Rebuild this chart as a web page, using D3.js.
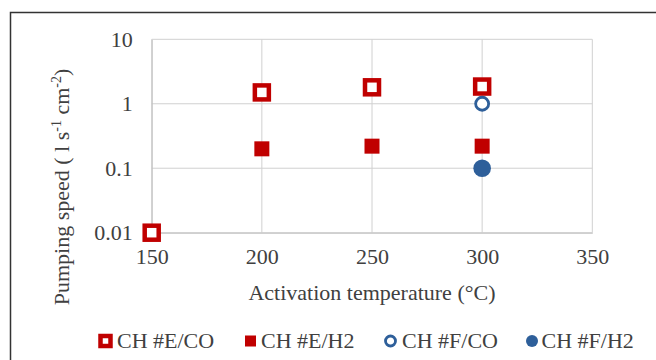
<!DOCTYPE html>
<html>
<head>
<meta charset="utf-8">
<script src="https://cdn.jsdelivr.net/npm/d3@7"></script>
<style>
  body { margin: 0; background: #fff; }
</style>
</head>
<body>
<div id="chart"></div>
<script>
// data
var temps = [150, 200, 250, 300];
var eCO = [0.01, 1.5, 1.8, 1.85];
var eH2 = [null, 0.2, 0.22, 0.22];
var fCO = [null, null, null, 1];
var fH2 = [null, null, null, 0.1];
var xTicks = [150, 200, 250, 300, 350];
var yTicks = [0.01, 0.1, 1, 10];
var seriesNames = ["CH #E/CO", "CH #E/H2", "CH #F/CO", "CH #F/H2"];

var red = "#c00000", blue = "#2e5f9a", txt = "#404040";
var FONT = "Liberation Serif";

var W = 656, H = 360;
var margin = {top: 39.3, right: 63.7, bottom: 127.3, left: 151.7};
var width = W - margin.left - margin.right,
    height = H - margin.top - margin.bottom;

var svg = d3.select("#chart").append("svg")
    .attr("width", W)
    .attr("height", H);

// outer frame (only top and left edges are in view)
svg.append("path")
    .attr("d", "M10.5," + H + "V12.5H" + W)
    .attr("fill", "none")
    .attr("stroke", "#333")
    .attr("stroke-width", 1.5);

var g = svg.append("g")
    .attr("transform", "translate(" + margin.left + "," + margin.top + ")");

var x = d3.scaleLinear().domain([150, 350]).range([0, width]);
var y = d3.scaleLog().domain([0.01, 10]).range([height, 0]);

// gridlines
g.selectAll("line.vgrid")
    .data(xTicks)
    .enter().append("line")
    .attr("class", "vgrid")
    .attr("x1", function(d) { return x(d); })
    .attr("x2", function(d) { return x(d); })
    .attr("y1", 0)
    .attr("y2", height)
    .attr("stroke", "#d0d0d0");

g.selectAll("line.hgrid")
    .data(yTicks)
    .enter().append("line")
    .attr("class", "hgrid")
    .attr("x1", 0)
    .attr("x2", width)
    .attr("y1", function(d) { return y(d); })
    .attr("y2", function(d) { return y(d); })
    .attr("stroke", "#d0d0d0");

// axes
var xAxis = g.append("g")
    .attr("transform", "translate(0," + height + ")")
    .call(d3.axisBottom(x).tickValues(xTicks).tickSize(0).tickPadding(16).tickFormat(d3.format("d")));
xAxis.select(".domain").attr("stroke", "#c0c0c0");

var yAxis = g.append("g")
    .call(d3.axisLeft(y).tickValues(yTicks).tickSize(0).tickPadding(19)
        .tickFormat(function(d) { return d >= 1 ? d3.format("d")(d) : String(d); }));
yAxis.select(".domain").attr("stroke", "#c0c0c0");

// axis titles
svg.append("text")
    .attr("x", margin.left + width / 2)
    .attr("y", 300)
    .attr("text-anchor", "middle")
    .text("Activation temperature (°C)");

var yt = svg.append("text")
    .attr("transform", "translate(69,187) rotate(-90)")
    .attr("text-anchor", "middle");
yt.append("tspan").text("Pumping speed ( l s");
yt.append("tspan").attr("dy", -8).attr("class", "sup").text("-1");
yt.append("tspan").attr("dy", 8).text(" cm");
yt.append("tspan").attr("dy", -8).attr("class", "sup").text("-2");
yt.append("tspan").attr("dy", 8).text(")");

function pts(vals) {
    return temps.map(function(t, i) { return {t: t, v: vals[i]}; })
        .filter(function(d) { return d.v != null; });
}

// CH #E/CO open squares
g.selectAll("rect.eco")
    .data(pts(eCO))
    .enter().append("rect")
    .attr("class", "eco")
    .attr("x", function(d) { return x(d.t) - 7; })
    .attr("y", function(d) { return y(d.v) - 7; })
    .attr("width", 14).attr("height", 14)
    .attr("fill", "#fff")
    .attr("stroke", red)
    .attr("stroke-width", 4.5);

// CH #E/H2 filled squares
g.selectAll("rect.eh2")
    .data(pts(eH2))
    .enter().append("rect")
    .attr("class", "eh2")
    .attr("x", function(d) { return x(d.t) - 7.5; })
    .attr("y", function(d) { return y(d.v) - 7.5; })
    .attr("width", 15).attr("height", 15)
    .attr("fill", red);

// CH #F/CO open circles
g.selectAll("circle.fco")
    .data(pts(fCO))
    .enter().append("circle")
    .attr("class", "fco")
    .attr("cx", function(d) { return x(d.t); })
    .attr("cy", function(d) { return y(d.v); })
    .attr("r", 6.5)
    .attr("fill", "#fff")
    .attr("stroke", blue)
    .attr("stroke-width", 2.8);

// CH #F/H2 filled circles
g.selectAll("circle.fh2")
    .data(pts(fH2))
    .enter().append("circle")
    .attr("class", "fh2")
    .attr("cx", function(d) { return x(d.t); })
    .attr("cy", function(d) { return y(d.v); })
    .attr("r", 8.8)
    .attr("fill", blue);

// legend
var legX = [105.5, 250.5, 390.5, 532];
var leg = svg.selectAll("g.legend")
    .data(seriesNames)
    .enter().append("g")
    .attr("class", "legend")
    .attr("transform", function(d, i) { return "translate(" + legX[i] + ",341)"; });

leg.each(function(d, i) {
    var s = d3.select(this);
    if (i === 0) {
        s.append("rect").attr("x", -5).attr("y", -5).attr("width", 10).attr("height", 10)
            .attr("fill", "#fff").attr("stroke", red).attr("stroke-width", 4.5);
    } else if (i === 1) {
        s.append("rect").attr("x", -5.5).attr("y", -5.5).attr("width", 11).attr("height", 11)
            .attr("fill", red);
    } else if (i === 2) {
        s.append("circle").attr("r", 5).attr("fill", "#fff")
            .attr("stroke", blue).attr("stroke-width", 2.8);
    } else {
        s.append("circle").attr("r", 6).attr("fill", blue);
    }
});

leg.append("text")
    .attr("x", function(d, i) { return [11.5, 10.5, 11.5, 9.5][i]; })
    .attr("y", 7)
    .text(function(d) { return d; });

// same font on every text, set on the element itself
svg.selectAll("text")
    .attr("font-family", FONT)
    .attr("font-size", 22)
    .attr("fill", txt);
svg.selectAll("tspan").attr("font-family", FONT);
svg.selectAll("tspan.sup").attr("font-size", 14);
</script>
</body>
</html>
